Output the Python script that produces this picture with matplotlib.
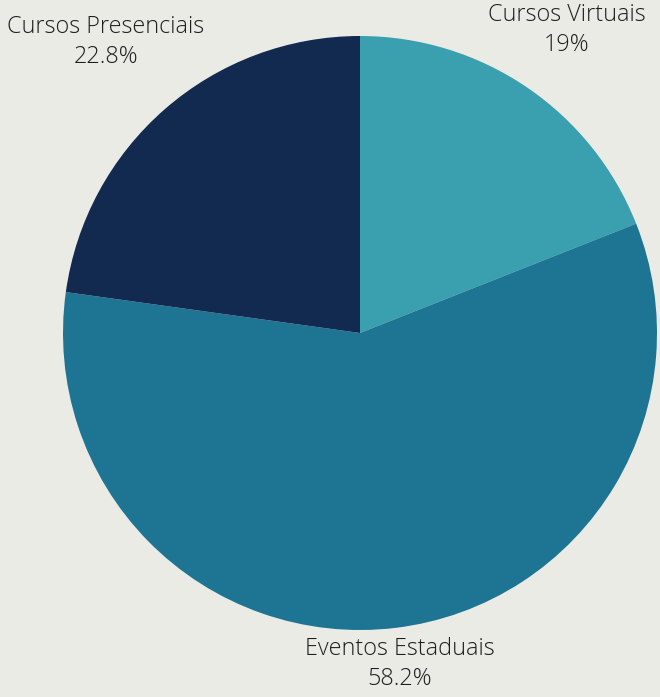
import matplotlib
matplotlib.use("Agg")
import matplotlib.pyplot as plt

categories = ["Cursos Virtuais", "Eventos Estaduais", "Cursos Presenciais"]
values = [19.0, 58.2, 22.8]
colors = ["#3A9FAE", "#1D7593", "#122A50"]
label_texts = ["19%", "58.2%", "22.8%"]

W, H = 660, 697
fig = plt.figure(figsize=(W / 100, H / 100), dpi=100)
bg = "#EBEBE6"
fig.patch.set_facecolor(bg)

cx, cy, r = 360, 333, 297
ax = fig.add_axes([(cx - r) / W, (H - cy - r) / H, 2 * r / W, 2 * r / H])
ax.set_facecolor(bg)
ax.pie(values, colors=colors, startangle=90, counterclock=False,
       radius=1, wedgeprops=dict(linewidth=0))
ax.set_xlim(-1, 1)
ax.set_ylim(-1, 1)
ax.set_aspect("equal")
ax.axis("off")

label_pos = [(567, 30), (400, 664), (106, 42)]
for cat, pct, (x, y) in zip(categories, label_texts, label_pos):
    fig.text(x / W, 1 - y / H, f"{cat}\n{pct}", ha="center", va="center",
             fontsize=16.8, family="Open Sans", fontweight="light",
             color="#1e1e1e", linespacing=1.32)

fig.savefig("out.png", dpi=100, facecolor=bg)
